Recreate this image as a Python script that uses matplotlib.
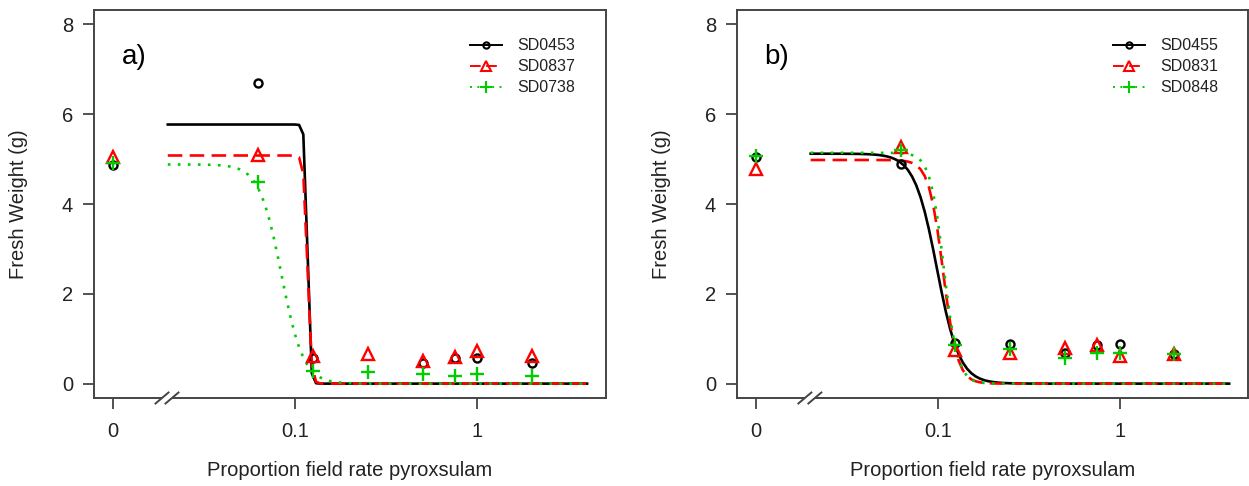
import numpy as np
import matplotlib
matplotlib.use("Agg")
import matplotlib.pyplot as plt
from matplotlib.lines import Line2D

plt.rcParams['font.family'] = ['Liberation Sans', 'DejaVu Sans']

# Doses (proportion of field rate); 0 is drawn at the break position 0.01
doses = [0, 0.0625, 0.125, 0.25, 0.5, 0.75, 1, 2]
zero_pos = 0.01
break_pt = 0.02
curve_max = 4.0

# Panel a) mean fresh weight (g)
names_a = ["SD0453", "SD0837", "SD0738"]
sd0453 = [4.86, 6.69, 0.56, np.nan, 0.45, 0.56, 0.56, 0.47]
sd0837 = [5.04, 5.08, 0.62, 0.65, 0.51, 0.60, 0.73, 0.62]
sd0738 = [4.92, 4.50, 0.29, 0.25, 0.22, 0.16, 0.22, 0.16]
# Panel a) log-logistic fit parameters (upper limit, ED50, slope), lower limit 0
upper_a = [5.77, 5.08, 4.88]
ed50_a = [0.117, 0.117, 0.084]
slope_a = [60.0, 45.0, 7.2]

# Panel b) mean fresh weight (g)
names_b = ["SD0455", "SD0831", "SD0848"]
sd0455 = [5.04, 4.88, 0.91, 0.89, 0.69, 0.85, 0.89, 0.67]
sd0831 = [4.77, 5.26, 0.76, 0.69, 0.80, 0.85, 0.62, 0.67]
sd0848 = [5.06, 5.21, 0.85, 0.78, 0.56, 0.69, 0.69, 0.65]
upper_b = [5.12, 4.98, 5.14]
ed50_b = [0.099, 0.107, 0.108]
slope_b = [7.0, 11.0, 11.5]

colors = ["black", "#ff0000", "#00cc00"]
linestyles = ["-", (0, (5.5, 2.8)), (0, (1, 2.8))]
markers = ["o", "^", "+"]
msizes = [5.8, 8.5, 9.5]
leg_msizes = [4.5, 7.5, 9]

yticks = [0, 2, 4, 6, 8]
xtick_pos = [zero_pos, 0.1, 1]
xtick_labels = ["0", "0.1", "1"]

TXT = "#222222"
SPINE = "#444444"


def ll4(x, b, d, e, c=0.0):
    return c + (d - c) / (1.0 + np.exp(b * (np.log(x) - np.log(e))))


fig = plt.figure(figsize=(12.49, 4.86), dpi=100)
ax_a = fig.add_axes([94 / 1249, 88 / 486, 512 / 1249, 388 / 486])
ax_b = fig.add_axes([737 / 1249, 88 / 486, 511 / 1249, 388 / 486])

lx0, lx1 = -2.104, 0.706
xmin, xmax = 10 ** lx0, 10 ** lx1


def draw_panel(ax, names, series, uppers, ed50s, slopes, tag, leg_x):
    xpos = [zero_pos if d == 0 else d for d in doses]
    grid = np.exp(np.linspace(np.log(break_pt), np.log(curve_max), 100))
    for i, ys in enumerate(series):
        ax.plot(grid, ll4(grid, slopes[i], uppers[i], ed50s[i]),
                color=colors[i], linestyle=linestyles[i], lw=1.9, zorder=3)
    for i, ys in enumerate(series):
        ax.plot(xpos, ys, linestyle="none", marker=markers[i], ms=msizes[i],
                mfc="none", mec=colors[i], mew=1.7, zorder=4)

    ax.set_xscale("log")
    ax.set_xlim(xmin, xmax)
    ax.set_ylim(-0.32, 8.32)
    ax.set_yticks(yticks)
    ax.set_yticklabels([str(t) for t in yticks])
    ax.set_xticks(xtick_pos)
    ax.set_xticklabels(xtick_labels)
    ax.xaxis.set_minor_locator(matplotlib.ticker.NullLocator())
    ax.tick_params(axis="both", direction="out", length=8, width=1.3,
                   color=SPINE, labelsize=14.5, labelcolor=TXT)
    ax.tick_params(axis="x", pad=9)
    ax.tick_params(axis="y", pad=7)
    for s in ax.spines.values():
        s.set_color(SPINE)
        s.set_linewidth(1.4)

    ax.text(-0.148, 0.5, "Fresh Weight (g)", rotation=90, ha="center",
            va="center", transform=ax.transAxes, fontsize=14.5, color=TXT)
    ax.text(0.5, -0.186, "Proportion field rate pyroxsulam", ha="center",
            va="center", transform=ax.transAxes, fontsize=14.5, color=TXT)
    ax.text(0.078, 0.88, tag, ha="center", va="center",
            transform=ax.transAxes, fontsize=20, color="black")

    # broken-axis marks on the x axis
    w = ax.get_position().width * fig.get_figwidth() * fig.dpi
    h = ax.get_position().height * fig.get_figheight() * fig.dpi
    fx = (np.log10(0.0198) - lx0) / (lx1 - lx0)
    dx, dy = 6.5 / w, 5.5 / h
    gap = 5.0 / w
    ax.fill([fx - gap - dx, fx + gap - dx, fx + gap + dx, fx - gap + dx],
            [-dy, -dy, dy, dy], color="white", transform=ax.transAxes,
            clip_on=False, zorder=5, lw=0)
    for off in (-gap, gap):
        ax.plot([fx + off - dx, fx + off + dx], [-dy, dy], color=SPINE,
                lw=1.4, transform=ax.transAxes, clip_on=False, zorder=6)

    handles = [Line2D([], [], color=colors[i], linestyle=linestyles[i],
                      lw=1.4, marker=markers[i], ms=leg_msizes[i],
                      mfc="none", mec=colors[i], mew=1.5)
               for i in range(3)]
    ax.legend(handles, names, loc="upper left", bbox_to_anchor=(leg_x, 0.927),
              frameon=False, fontsize=11.5, handlelength=2.0,
              handletextpad=0.95, labelspacing=0.38, borderpad=0,
              borderaxespad=0, labelcolor=TXT)


draw_panel(ax_a, names_a, [sd0453, sd0837, sd0738], upper_a, ed50_a, slope_a,
           "a)", 0.734)
draw_panel(ax_b, names_b, [sd0455, sd0831, sd0848], upper_b, ed50_b, slope_b,
           "b)", 0.736)

fig.savefig("out.png", dpi=100)
